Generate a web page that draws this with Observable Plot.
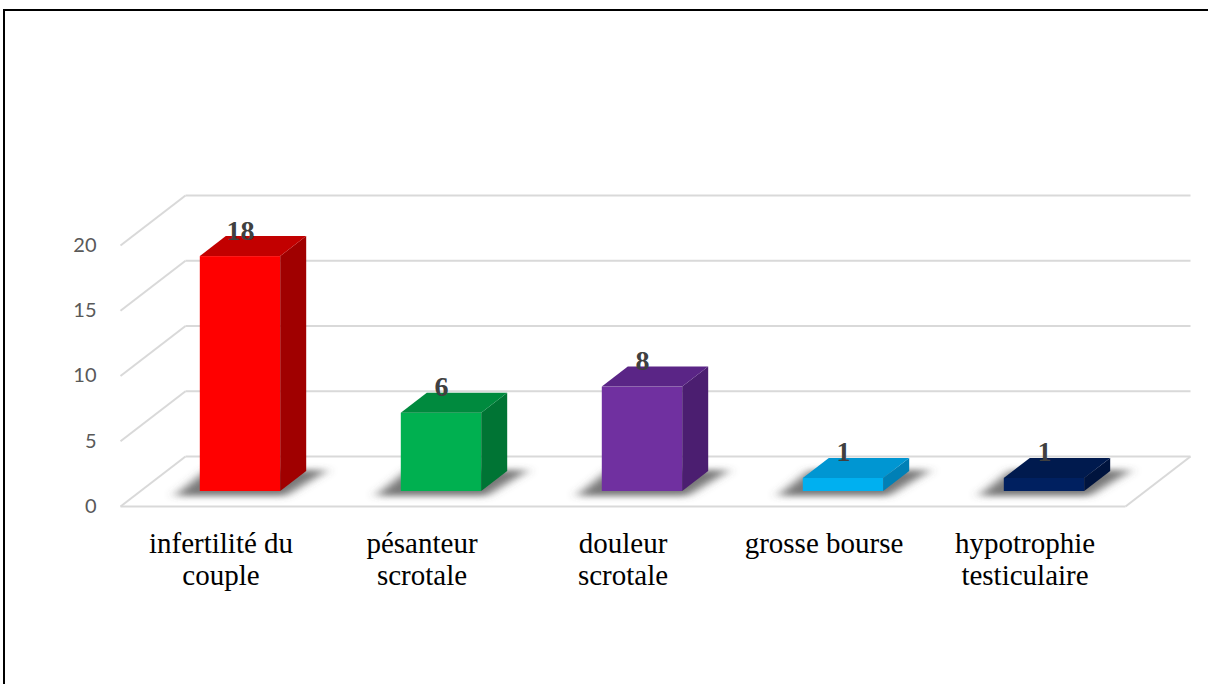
<!DOCTYPE html>
<html><head><meta charset="utf-8">
<script src="https://cdn.jsdelivr.net/npm/d3@7"></script>
<script src="https://cdn.jsdelivr.net/npm/@observablehq/plot@0.6"></script>
<style>
html,body{margin:0;padding:0;background:#fff;width:1208px;height:684px;overflow:hidden;}
#frame{position:absolute;left:3px;top:9px;width:1210px;height:690px;border-top:2px solid #000;border-left:2px solid #000;}
#chart{position:absolute;left:0;top:0;}
</style></head><body>
<div id="frame"></div><div id="chart"></div>
<script>
// ---- data ----
const categories = ["infertilité du\ncouple", "pésanteur\nscrotale", "douleur\nscrotale", "grosse bourse", "hypotrophie\ntesticulaire"];
const values = [18, 6, 8, 1, 1];
const yTicks = [0, 5, 10, 15, 20];

// ---- styles ----
const frontColors = ["#ff0000", "#00b050", "#7030a0", "#00b0f0", "#002060"];
const topColors   = ["#c20000", "#008a3e", "#5a2586", "#0096d2", "#001a4e"];
const sideColors  = ["#a00000", "#007434", "#4b1e70", "#0080b6", "#00143e"];

// oblique projection of the 3D depth axis, in scale units
const DX = 65 / 201, DY = 50 / 13.05;
const D0 = 0.3, D1 = 0.7;   // bar depth (front / back)
const B0 = 0.3, B1 = 0.7;   // bar span within its category band

const bars = categories.map((c, i) => ({i, c, v: values[i], front: frontColors[i], top: topColors[i], side: sideColors[i]}));

const front = bars.map(b => ({...b, x1: b.i + B0 + D0 * DX, x2: b.i + B1 + D0 * DX, y1: D0 * DY, y2: b.v + D0 * DY}));
const side = bars.flatMap(b => [
  {...b, x: b.i + B1 + D0 * DX, y1: D0 * DY, y2: b.v + D0 * DY},
  {...b, x: b.i + B1 + D1 * DX, y1: D1 * DY, y2: b.v + D1 * DY}
]);
const topF = bars.flatMap(b => [
  {...b, y: b.v + D0 * DY, x1: b.i + B0 + D0 * DX, x2: b.i + B1 + D0 * DX},
  {...b, y: b.v + D1 * DY, x1: b.i + B0 + D1 * DX, x2: b.i + B1 + D1 * DX}
]);
const shadow = bars.flatMap(b => [
  {...b, y: 0.2 * DY, x1: b.i + B0 - 0.1 + 0.22 * DX, x2: b.i + B1 + 0.05 + 0.22 * DX},
  {...b, y: 0.72 * DY, x1: b.i + B0 - 0.1 + 0.72 * DX, x2: b.i + B1 + 0.1 + 0.72 * DX}
]);

const nCat = categories.length;
const gridDiag = yTicks.map(t => ({x1: 0, y1: t, x2: DX, y2: t + DY}));
const gridBack = yTicks.map(t => ({x1: DX, y1: t + DY, x2: nCat + DX, y2: t + DY}));
const floorEdges = [
  {x1: 0, y1: 0, x2: nCat, y2: 0},
  {x1: nCat, y1: 0, x2: nCat + DX, y2: DY}
];

const gridStyle = {x1: "x1", y1: "y1", x2: "x2", y2: "y2", stroke: "#d9d9d9", strokeWidth: 2};

const chart = Plot.plot({
  width: 1208,
  height: 684,
  marginLeft: 100, marginRight: 0, marginTop: 0, marginBottom: 0,
  x: {domain: [0, nCat], range: [120, 1125], axis: null},
  y: {domain: [0, 20], range: [506, 245], label: null},
  color: {type: "identity"},
  style: {background: "transparent", overflow: "visible"},
  marks: [
    Plot.link(gridDiag, gridStyle),
    Plot.link(gridBack, gridStyle),
    Plot.link(floorEdges, gridStyle),
    Plot.axisY({ticks: yTicks, tickSize: 0, tickPadding: 4, fontSize: 20, fontFamily: "Lato", color: "#595959", label: null}),
    Plot.areaX(shadow, {y: "y", x1: "x1", x2: "x2", z: "i", fill: "#555555", fillOpacity: 0.8}),
    Plot.rect(front, {x1: "x1", x2: "x2", y1: "y1", y2: "y2", fill: "front"}),
    Plot.areaY(side, {x: "x", y1: "y1", y2: "y2", z: "i", fill: "side"}),
    Plot.areaX(topF, {y: "y", x1: "x1", x2: "x2", z: "i", fill: "top"}),
    Plot.text(bars, {x: b => b.i + 0.5 + D0 * DX, y: b => b.v + 0.64 * DY, text: b => String(b.v), lineAnchor: "bottom", fontFamily: "Liberation Serif", fontWeight: "bold", fontSize: 28, fill: "#404040"}),
    Plot.text(bars, {x: b => b.i + 0.5, y: -1.84, text: "c", lineAnchor: "top", lineHeight: 1.1, fontFamily: "Liberation Serif", fontSize: 29, fill: "#000"})
  ]
});

document.getElementById("chart").appendChild(chart);

// soft blur for the floor shadows (the first area mark)
const ns = "http://www.w3.org/2000/svg";
const defs = document.createElementNS(ns, "defs");
defs.innerHTML = '<filter id="shblur" x="-50%" y="-100%" width="200%" height="300%"><feGaussianBlur stdDeviation="6 3"/></filter>';
chart.insertBefore(defs, chart.firstChild);
const areas = chart.querySelectorAll('g[aria-label="area"]');
if (areas.length) areas[0].setAttribute("filter", "url(#shblur)");
</script>
</body></html>
